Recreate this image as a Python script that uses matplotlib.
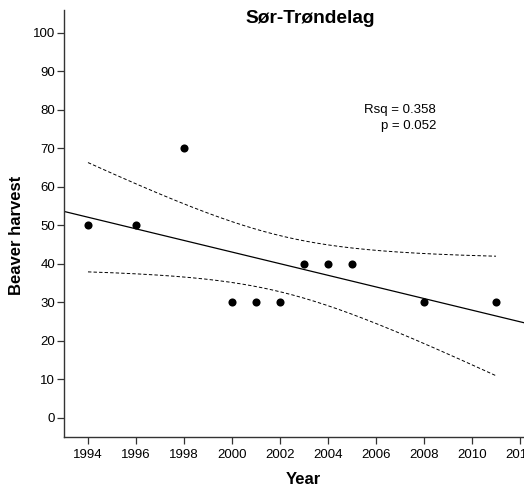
import numpy as np
import matplotlib
matplotlib.use("Agg")
import matplotlib.pyplot as plt

years = [1994, 1996, 1998, 2000, 2001, 2002, 2003, 2004, 2005, 2008, 2011]
harvest = [50, 50, 70, 30, 30, 30, 40, 40, 40, 30, 30]
xticks = [1994, 1996, 1998, 2000, 2002, 2004, 2006, 2008, 2010, 2012]
yticks = [0, 10, 20, 30, 40, 50, 60, 70, 80, 90, 100]
title = "Sør-Trøndelag"
stats_text = "Rsq = 0.358\np = 0.052"

plt.rcParams['font.family'] = ['Liberation Sans', 'DejaVu Sans']

fig = plt.figure(figsize=(5.24, 4.96), dpi=100)
W, H = 524, 496
left, right, bottom, top = 64, 544, 437, 9.5
ax = fig.add_axes([left / W, 1 - bottom / H, (right - left) / W, (bottom - top) / H])

x = np.array(years, float)
y = np.array(harvest, float)
n = len(x)
b, a = np.polyfit(x, y, 1)
xlo, xhi = 1993.0, 2013.0
xl = np.array([xlo, xhi])
ax.plot(xl, a + b * xl, color='black', lw=0.9)

xs = np.linspace(x.min(), x.max(), 200)
resid = y - (a + b * x)
s = np.sqrt(np.sum(resid ** 2) / (n - 2))
sxx = np.sum((x - x.mean()) ** 2)
tval = 2.262157  # t(0.975, 9)
se = s * np.sqrt(1.0 / n + (xs - x.mean()) ** 2 / sxx)
yfit = a + b * xs
ax.plot(xs, yfit + tval * se, color='black', lw=0.7, ls=(0, (3.5, 2.2)))
ax.plot(xs, yfit - tval * se, color='black', lw=0.7, ls=(0, (3.5, 2.2)))

ax.scatter(x, y, s=34, color='black', zorder=3, linewidths=0)

ax.set_xlim(xlo, xhi)
ax.set_ylim(-5, 106)
ax.set_xticks(xticks)
ax.set_yticks(yticks)
ax.tick_params(axis='both', direction='out', length=5, width=0.9, color='#333333',
               labelsize=9.5)
ax.tick_params(axis='x', pad=4)
ax.tick_params(axis='y', pad=1.5)
for sp in ['top', 'right']:
    ax.spines[sp].set_visible(False)
for sp in ['left', 'bottom']:
    ax.spines[sp].set_color('#333333')
    ax.spines[sp].set_linewidth(1.0)

fig.text(310 / W, 1 - 18.5 / H, title, ha='center', va='center', fontsize=13.8, fontweight='bold')
fig.text(303 / W, 1 - 480 / H, "Year", ha='center', va='center', fontsize=12, fontweight='bold')
fig.text(17 / W, 1 - 235 / H, "Beaver harvest", ha='center', va='center', rotation=90,
         fontsize=12, fontweight='bold')
fig.text(436 / W, 1 - 118 / H, stats_text, ha='right', va='center', fontsize=9.5,
         linespacing=1.45)

fig.savefig("out.png", dpi=100)
